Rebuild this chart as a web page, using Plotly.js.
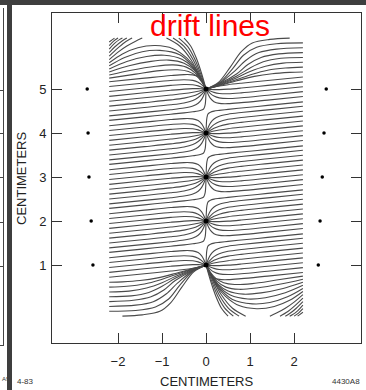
<!DOCTYPE html>
<html>
<head>
<meta charset="utf-8">
<script src="https://cdn.plot.ly/plotly-3.0.1.min.js"></script>
<style>
html,body{margin:0;padding:0;background:#fff;overflow:hidden;width:366px;height:390px}
#chart{position:absolute;left:0;top:0;width:366px;height:390px}
.bar{position:absolute;background:#3e3e3e}
.ln{position:absolute;background:#444}
</style>
</head>
<body>
<div id="chart"></div>
<div class="bar" style="left:0;top:0;width:366px;height:5px"></div>
<div class="bar" style="left:7px;top:0;width:5px;height:390px"></div>
<div class="ln" style="left:3px;top:8px;width:1px;height:337px"></div>
<div class="ln" style="left:0;top:90px;width:3px;height:1px"></div>
<div class="ln" style="left:0;top:133px;width:3px;height:1px"></div>
<div class="ln" style="left:0;top:177px;width:3px;height:1px"></div>
<div class="ln" style="left:0;top:222px;width:3px;height:1px"></div>
<div class="ln" style="left:0;top:266px;width:3px;height:1px"></div>
<div class="ln" style="left:0;top:345px;width:4px;height:1px"></div>
<script>
// ---- data (cm) ----
const senseWireX = [0, 0, 0, 0, 0];
const senseWireY = [1, 2, 3, 4, 5];
const fieldWireLeftX = [-2.57, -2.61, -2.66, -2.68, -2.70];
const fieldWireRightX = [2.55, 2.59, 2.64, 2.68, 2.73];
const fieldWireY = [1, 2, 3, 4, 5];
const xTicks = [-2, -1, 0, 1, 2];
const yTicks = [1, 2, 3, 4, 5];

// drift lines arriving at a sense wire from the left (x, height relative to the wire)
const cellLineX = [-2.2, -1.4, -0.8, -0.5, -0.3, -0.18, -0.1, -0.05, -0.02, 0];
const cellLineV = [
  [-0.710, -0.630, -0.570, -0.539, -0.516, -0.499, -0.477, -0.442, -0.354, 0],
  [-0.609, -0.529, -0.468, -0.430, -0.384, -0.321, -0.232, -0.134, -0.056, 0],
  [-0.498, -0.418, -0.356, -0.314, -0.259, -0.192, -0.121, -0.063, -0.026, 0],
  [-0.387, -0.307, -0.245, -0.205, -0.158, -0.110, -0.065, -0.034, -0.014, 0],
  [-0.276, -0.196, -0.135, -0.101, -0.071, -0.047, -0.027, -0.014, -0.006, 0],
  [-0.164, -0.084, -0.025, 0.001, 0.011, 0.011, 0.007, 0.004, 0.002, 0],
  [-0.053, 0.027, 0.085, 0.105, 0.098, 0.074, 0.045, 0.024, 0.010, 0],
  [0.058, 0.138, 0.196, 0.214, 0.199, 0.156, 0.101, 0.053, 0.022, 0],
  [0.169, 0.249, 0.308, 0.330, 0.324, 0.285, 0.212, 0.124, 0.052, 0]
];
// lines of the outer cells (top wire; the bottom wire shows the point image)
const archX = [
  [-2.2, -1.6, -1.05, -0.65, -0.4, -0.22, -0.09, 0],
  [-2.2, -1.7, -1.15, -0.75, -0.45, -0.25, -0.1, 0],
  [-2.2, -1.75, -1.25, -0.85, -0.5, -0.27, -0.11, 0],
  [-2.2, -1.8, -1.35, -0.95, -0.55, -0.3, -0.12, 0],
  [-2.2, -1.85, -1.45, -1.05, -0.6, -0.33, -0.13, 0],
  [-2.2, -1.9, -1.55, -1.15, -0.75, -0.44, -0.25, -0.12, 0]
];
const archV = [
  [0.25, 0.34, 0.42, 0.44, 0.40, 0.30, 0.15, 0],
  [0.32, 0.43, 0.52, 0.55, 0.50, 0.37, 0.18, 0],
  [0.39, 0.53, 0.63, 0.66, 0.59, 0.43, 0.21, 0],
  [0.46, 0.63, 0.74, 0.77, 0.68, 0.49, 0.24, 0],
  [0.53, 0.72, 0.85, 0.88, 0.78, 0.55, 0.27, 0],
  [0.60, 0.80, 0.94, 0.99, 0.92, 0.71, 0.48, 0.24, 0]
];
// arches leaving through the top edge: rising part in the corner, falling part into the wire
const cornerX = [
  [-2.2, -2.0, -1.8, -1.6, -1.45],
  [-2.2, -2.02, -1.85, -1.68],
  [-2.2, -2.05, -1.9, -1.8],
  [-2.2, -2.08, -1.96, -1.9],
  [-2.2, -2.1, -2.0],
  [-2.2, -2.12, -2.08]
];
const cornerV = [
  [0.67, 0.84, 0.98, 1.09, 1.16],
  [0.75, 0.92, 1.06, 1.16],
  [0.83, 0.98, 1.10, 1.16],
  [0.91, 1.04, 1.13, 1.16],
  [0.99, 1.09, 1.16],
  [1.07, 1.13, 1.16]
];
const fallX = [
  [-0.9, -0.6, -0.35, -0.16, 0],
  [-0.75, -0.5, -0.3, -0.14, 0],
  [-0.62, -0.42, -0.26, -0.12, 0],
  [-0.5, -0.35, -0.22, -0.1, 0]
];
const fallV = [
  [1.16, 0.98, 0.68, 0.33, 0],
  [1.16, 0.97, 0.68, 0.33, 0],
  [1.16, 0.97, 0.69, 0.34, 0],
  [1.16, 0.98, 0.70, 0.35, 0]
];
const sCurveX = [
  [0, 0.3, 0.7, 1.1, 1.5, 1.9, 2.2],
  [0, 0.3, 0.7, 1.05, 1.4, 1.8, 2.2],
  [0, 0.3, 0.7, 1.0, 1.35, 1.75, 2.2],
  [0, 0.3, 0.7, 1.0, 1.3, 1.7, 2.2],
  [0, 0.3, 0.7, 0.95, 1.25, 1.65, 2.2],
  [0, 0.3, 0.65, 0.9, 1.2, 1.6, 2.2],
  [0, 0.3, 0.6, 0.85, 1.15, 1.6, 2.2],
  [0, 0.28, 0.55, 0.8, 1.05, 1.45, 1.9]
];
const sCurveV = [
  [0, 0.08, 0.19, 0.29, 0.35, 0.38, 0.39],
  [0, 0.09, 0.22, 0.34, 0.43, 0.48, 0.50],
  [0, 0.10, 0.26, 0.40, 0.52, 0.59, 0.61],
  [0, 0.11, 0.30, 0.48, 0.62, 0.70, 0.72],
  [0, 0.12, 0.35, 0.56, 0.72, 0.80, 0.83],
  [0, 0.13, 0.41, 0.65, 0.83, 0.91, 0.94],
  [0, 0.14, 0.46, 0.77, 0.95, 1.03, 1.05],
  [0, 0.15, 0.50, 0.85, 1.05, 1.13, 1.16]
];

// ---- build line geometry ----
const lx = [], ly = [];
function addLine(xs, vs, x0, y0, sign) {
  for (let i = 0; i < xs.length; i++) {
    lx.push(x0 + sign * xs[i]);
    ly.push(y0 + sign * vs[i]);
  }
  lx.push(null); ly.push(null);
}
const topWire = Math.max(...senseWireY);
const botWire = Math.min(...senseWireY);
senseWireY.forEach((wy, w) => {
  const wx = senseWireX[w];
  cellLineV.forEach((vs, j) => {
    if (!(wy === botWire && j < 4)) addLine(cellLineX, vs, wx, wy, 1);
    if (!(wy === topWire && j < 4)) addLine(cellLineX, vs, wx, wy, -1);
  });
  if (wy === topWire || wy === botWire) {
    const s = wy === topWire ? 1 : -1;
    archX.forEach((xs, i) => addLine(xs, archV[i], wx, wy, s));
    cornerX.forEach((xs, i) => addLine(xs, cornerV[i], wx, wy, s));
    fallX.forEach((xs, i) => addLine(xs, fallV[i], wx, wy, s));
    sCurveX.forEach((xs, i) => addLine(xs, sCurveV[i], wx, wy, s));
  }
});

const traces = [
  {type: 'scatter', mode: 'lines', x: lx, y: ly, connectgaps: false,
   line: {color: '#4a4a4a', width: 1.1, shape: 'spline', smoothing: 0.9}, hoverinfo: 'skip'},
  {type: 'scatter', mode: 'markers', x: senseWireX, y: senseWireY,
   marker: {color: '#000', size: 5}, hoverinfo: 'skip'},
  {type: 'scatter', mode: 'markers', x: fieldWireLeftX.concat(fieldWireRightX), y: fieldWireY.concat(fieldWireY),
   marker: {color: '#000', size: 3.5}, hoverinfo: 'skip'}
];

const font = 'Liberation Sans, Arial, sans-serif';
const axisCommon = {
  ticks: 'inside', ticklen: 10, tickwidth: 1, tickcolor: '#333',
  showline: true, linecolor: '#333', linewidth: 1, mirror: 'ticks',
  showgrid: false, zeroline: false, fixedrange: true,
  tickfont: {family: font, size: 13, color: '#222'}
};
const layout = {
  width: 366, height: 390,
  margin: {l: 52, r: 5, t: 13, b: 47},
  paper_bgcolor: '#fff', plot_bgcolor: '#fff',
  showlegend: false,
  xaxis: Object.assign({}, axisCommon, {range: [-3.5, 3.52], tickvals: xTicks, ticklabelstandoff: 6}),
  yaxis: Object.assign({}, axisCommon, {range: [-0.77, 6.73], tickvals: yTicks, ticklabelstandoff: 2}),
  annotations: [
    {text: 'drift lines', xref: 'paper', yref: 'paper', x: 0.511, y: 0.9636, xanchor: 'center', yanchor: 'middle',
     showarrow: false, font: {family: font, size: 30, color: '#ff0000'}},
    {text: 'CENTIMETERS', xref: 'paper', yref: 'paper', x: 0.5016, y: -0.118, xanchor: 'center', yanchor: 'middle',
     showarrow: false, font: {family: font, size: 13, color: '#222'}},
    {text: 'CENTIMETERS', xref: 'paper', yref: 'paper', x: -0.1003, y: 0.5, xanchor: 'center', yanchor: 'middle',
     textangle: -90, showarrow: false, font: {family: font, size: 13, color: '#222'}},
    {text: '4-83', xref: 'paper', yref: 'paper', x: -0.087, y: -0.118, xanchor: 'center', yanchor: 'middle',
     showarrow: false, font: {family: font, size: 8, color: '#333'}},
    {text: '4430A8', xref: 'paper', yref: 'paper', x: 1.003, y: -0.118, xanchor: 'right', yanchor: 'middle',
     showarrow: false, font: {family: font, size: 8, color: '#333'}},
    {text: 'A9', xref: 'paper', yref: 'paper', x: -0.168, y: -0.108, xanchor: 'left', yanchor: 'middle',
     showarrow: false, font: {family: font, size: 6, color: '#333'}}
  ]
};
Plotly.newPlot('chart', traces, layout, {displayModeBar: false, staticPlot: true});
</script>
</body>
</html>
